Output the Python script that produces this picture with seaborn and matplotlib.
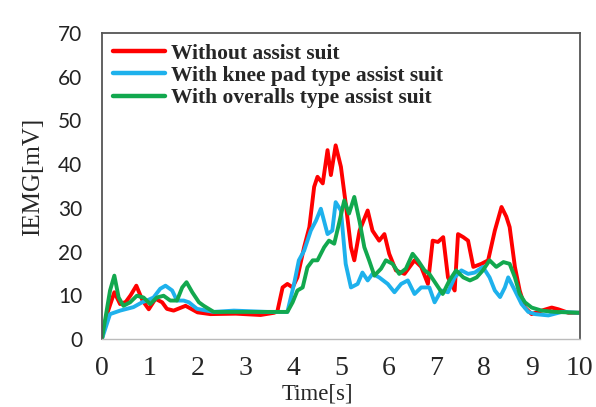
import pandas as pd
import matplotlib
matplotlib.use("Agg")
import matplotlib.pyplot as plt
import seaborn as sns

# Without assist suit
t_without = [0, 0.1, 0.26, 0.38, 0.5, 0.6, 0.72, 0.85, 0.98, 1.12, 1.26, 1.36, 1.5, 1.75, 2.0, 2.27,
             2.8, 3.32, 3.6, 3.67, 3.78, 3.88, 3.99, 4.09, 4.23, 4.34, 4.44, 4.51, 4.62, 4.72, 4.79,
             4.89, 5.0, 5.1, 5.21, 5.28, 5.39, 5.56, 5.66, 5.8, 5.91, 6.01, 6.15, 6.33, 6.54, 6.68,
             6.82, 6.92, 7.03, 7.14, 7.24, 7.38, 7.45, 7.56, 7.66, 7.77, 7.94, 8.08, 8.22, 8.36,
             8.46, 8.53, 8.64, 8.74, 8.85, 8.99, 9.2, 9.41, 9.55, 9.76, 10.0]
v_without = [0, 5.5, 10.7, 8.0, 8.5, 10, 12.2, 8.8, 6.8, 9.2, 8.4, 6.9, 6.5, 7.6, 6.1, 5.7,
             5.8, 5.5, 6.0, 6.3, 11.8, 12.6, 11.8, 14.1, 21.0, 25.6, 34.8, 37.1, 35.6, 43.2, 37.5,
             44.3, 39.4, 31.0, 21.0, 18.0, 24.8, 29.4, 24.8, 22.5, 24.0, 19.5, 15.7, 14.9, 18.0, 16.5,
             12.6, 22.5, 22.2, 23.3, 14.1, 11.1, 24.0, 23.3, 22.5, 16.5, 17.2, 18.0, 24.8, 30.2,
             28.0, 25.6, 16.5, 11.1, 7.2, 5.7, 6.5, 7.2, 6.8, 6.0, 6.0]

# With knee pad type assist suit
t_knee = [0, 0.17, 0.38, 0.66, 0.84, 0.94, 1.08, 1.22, 1.33, 1.47, 1.57, 1.71, 1.82, 1.99, 2.34,
          2.76, 3.46, 3.88, 4.02, 4.12, 4.23, 4.37, 4.48, 4.58, 4.72, 4.82, 4.89, 5.0, 5.1, 5.21,
          5.35, 5.45, 5.56, 5.66, 5.8, 5.98, 6.12, 6.26, 6.4, 6.54, 6.68, 6.85, 6.96, 7.1, 7.24,
          7.38, 7.52, 7.66, 7.8, 7.97, 8.11, 8.22, 8.33, 8.43, 8.5, 8.64, 8.78, 8.92, 9.06, 9.34,
          9.62, 10.0]
v_knee = [0, 5.7, 6.5, 7.3, 8.4, 8.8, 9.5, 11.5, 12.2, 11.1, 8.8, 8.8, 8.4, 6.9, 6.2,
          6.5, 6.2, 6.2, 12.6, 18.0, 20.2, 24.8, 27.1, 29.8, 24.0, 24.8, 31.3, 29.4, 17.2, 11.8,
          12.6, 15.2, 13.4, 14.9, 14.1, 12.6, 10.7, 12.6, 13.4, 10.3, 11.8, 11.8, 8.4, 11.1, 10.7,
          14.1, 15.7, 14.9, 15.2, 16.5, 14.1, 11.1, 9.6, 11.8, 14.1, 11.1, 8.0, 6.2, 5.7, 5.4,
          6.2, 6.0]

# With overalls type assist suit
t_overalls = [0, 0.17, 0.26, 0.35, 0.45, 0.59, 0.73, 0.87, 1.01, 1.15, 1.29, 1.43, 1.57, 1.68,
              1.77, 1.89, 2.03, 2.13, 2.34, 2.8, 3.88, 3.99, 4.09, 4.2, 4.3, 4.41, 4.51, 4.65,
              4.75, 4.86, 4.96, 5.07, 5.17, 5.28, 5.39, 5.49, 5.59, 5.7, 5.84, 5.94, 6.08, 6.22,
              6.36, 6.5, 6.61, 6.75, 6.85, 6.99, 7.13, 7.27, 7.41, 7.56, 7.7, 7.84, 7.97, 8.11,
              8.25, 8.4, 8.53, 8.64, 8.74, 8.85, 8.99, 9.2, 9.48, 10.0]
v_overalls = [0, 11.1, 14.5, 9.5, 7.6, 8.4, 9.9, 9.5, 8.0, 9.5, 9.9, 8.8, 8.8, 11.8,
              13.0, 10.7, 8.4, 7.6, 6.2, 6.2, 6.2, 8.4, 11.1, 11.8, 16.4, 18.0, 18.0, 21.0,
              22.5, 21.8, 26.4, 31.7, 28.7, 32.5, 26.9, 21.0, 18.0, 14.5, 16.1, 18.0, 17.2, 14.9,
              16.1, 19.5, 18.0, 15.7, 14.9, 12.6, 10.3, 13.4, 15.7, 14.1, 13.4, 14.1, 15.7, 18.0,
              16.5, 17.6, 17.2, 14.1, 10.3, 8.4, 7.2, 6.5, 6.2, 6.0]

labels = ["Without assist suit", "With knee pad type assist suit", "With overalls type assist suit"]
colors = ["#ff0000", "#1eb1ec", "#12a84e"]
x_ticks = list(range(0, 11))
y_ticks = list(range(0, 71, 10))

df = pd.concat([
    pd.DataFrame({"time": t_without, "iemg": v_without, "cond": labels[0]}),
    pd.DataFrame({"time": t_knee, "iemg": v_knee, "cond": labels[1]}),
    pd.DataFrame({"time": t_overalls, "iemg": v_overalls, "cond": labels[2]}),
])

sns.set_style("white")
fig = plt.figure(figsize=(5.96, 4.07), dpi=100)
ax = fig.add_axes([0.171, 0.167, 0.802, 0.752])

sns.lineplot(data=df, x="time", y="iemg", hue="cond", hue_order=labels,
             palette=colors, linewidth=2.8, sort=False, estimator=None, ax=ax)

ax.set_xlim(0, 10)
ax.set_ylim(0, 70)
ax.set_xticks(x_ticks)
ax.set_yticks(y_ticks)
ax.set_xticklabels([str(x) for x in x_ticks], family="Liberation Serif", fontsize=20)
ax.set_yticklabels([str(y) for y in y_ticks], family="Lato", fontsize=15, color="#222222")
ax.tick_params(axis="y", direction="in", length=5, width=1, color="#444444", pad=14)
ax.tick_params(axis="x", direction="in", length=6, width=1, color="#aaaaaa", pad=12)
ax.set_xlabel("Time[s]", family="Liberation Serif", fontsize=16.5)
ax.xaxis.set_label_coords(0.45, -0.145)
ax.set_ylabel("IEMG[mV]", family="Liberation Serif", fontsize=18, labelpad=10)
ax.yaxis.label.set_y(0.53)

for side in ["left", "top", "right"]:
    ax.spines[side].set_color("#555555")
    ax.spines[side].set_linewidth(1.3)
ax.spines["bottom"].set_color("#bbbbbb")
ax.spines["bottom"].set_linewidth(1.0)

leg = ax.legend(loc="upper left", frameon=False, handlelength=2.45, handletextpad=0.25,
                labelspacing=0.1, borderaxespad=0.2, borderpad=0.3,
                prop={"family": "Liberation Serif", "weight": "bold", "size": 15.5})
for line in leg.get_lines():
    line.set_linewidth(3.2)

fig.savefig("out.png", dpi=100)
